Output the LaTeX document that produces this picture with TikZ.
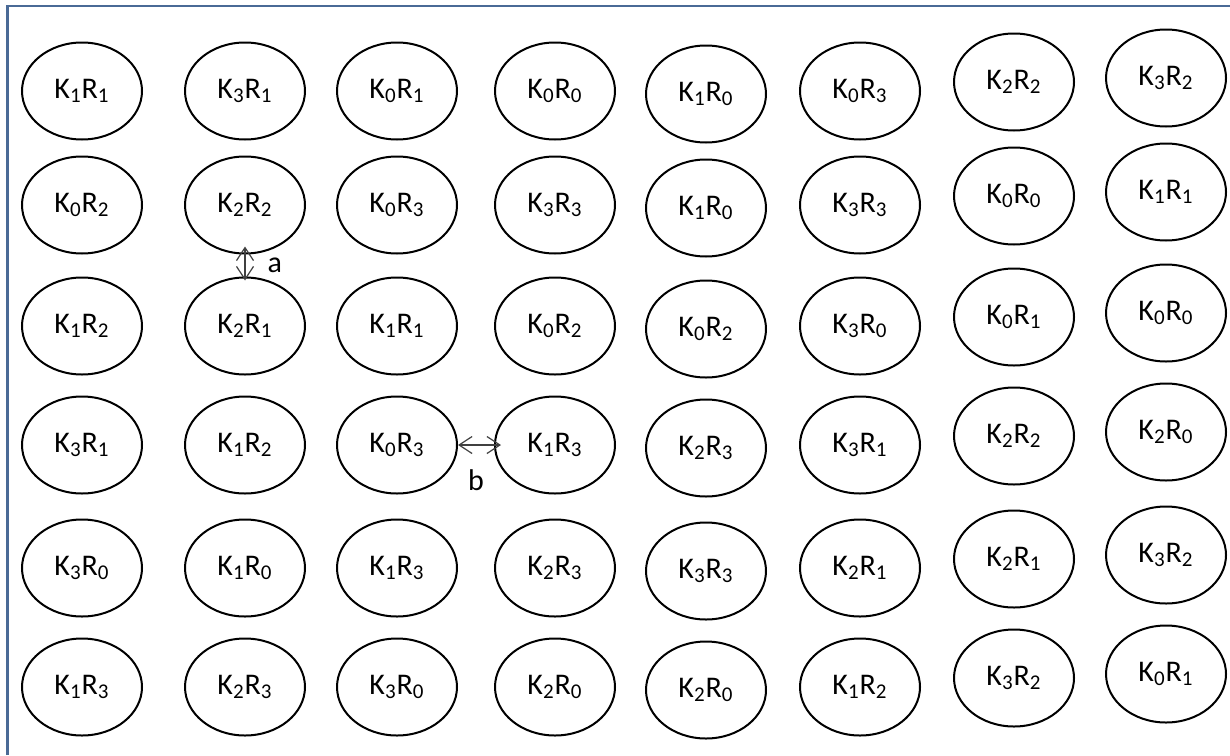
\documentclass[tikz,border=0pt]{standalone}
\usepackage{fontspec}
\setmainfont{Carlito}
\usetikzlibrary{arrows.meta,shapes.geometric}
\definecolor{FrameBlue}{RGB}{74,106,150}

% one row of key/round pairs: #1 row index, #2 y (px), #3 list k/r
\newcommand{\pairrow}[3]{%
  \foreach \k/\rr [count=\c] in {#3}{
    \pgfmathsetmacro{\xx}{{82,245,397,555,706,860,1014,1166}[\c-1]}
    \pgfmathsetmacro{\dy}{{0,0,0,0,3,0,-9,-13}[\c-1]}
    \node[pair] (c#1\c) at ({\xx},{#2+\dy}) {K\textsubscript{\k}R\textsubscript{\rr}};
  }}

\begin{document}
\begin{tikzpicture}[
  x=0.5pt, y=-0.5pt,
  font=\fontsize{15}{17}\selectfont,
  >={Straight Barb[length=6.5pt,width=8.5pt]},
  pair/.style={draw, ellipse, line width=1pt, minimum width=60pt, minimum height=48.5pt, inner sep=0pt},
  gap/.style={<->, line width=0.6pt, black!75},
  lbl/.style={inner sep=1pt, text=black},
]
\useasboundingbox (0,0) rectangle (1230,755);

% ============ FRAME (only left and top edges visible) ============
\draw[FrameBlue, line width=1.4pt] (7.5,755) -- (7.5,6) -- (1230,6);

% ============ GRID OF PAIRS ============
\pairrow{1}{91} {1/1,3/1,0/1,0/0,1/0,0/3,2/2,3/2}
\pairrow{2}{205}{0/2,2/2,0/3,3/3,1/0,3/3,0/0,1/1}
\pairrow{3}{326}{1/2,2/1,1/1,0/2,0/2,3/0,0/1,0/0}
\pairrow{4}{445}{3/1,1/2,0/3,1/3,2/3,3/1,2/2,2/0}
\pairrow{5}{568}{3/0,1/0,1/3,2/3,3/3,2/1,2/1,3/2}
\pairrow{6}{687}{1/3,2/3,3/0,2/0,2/0,1/2,3/2,0/1}

% ============ DISTANCES ============
\draw[gap, shorten <=-4pt, shorten >=-2pt] (c22.south) -- (c32.north)
      node[lbl, midway, right=10pt] {a};
\draw[gap, shorten >=-3.5pt] (c43.east) -- (c44.west)
      node[lbl, midway, below=11pt] {b};

\end{tikzpicture}
\end{document}
